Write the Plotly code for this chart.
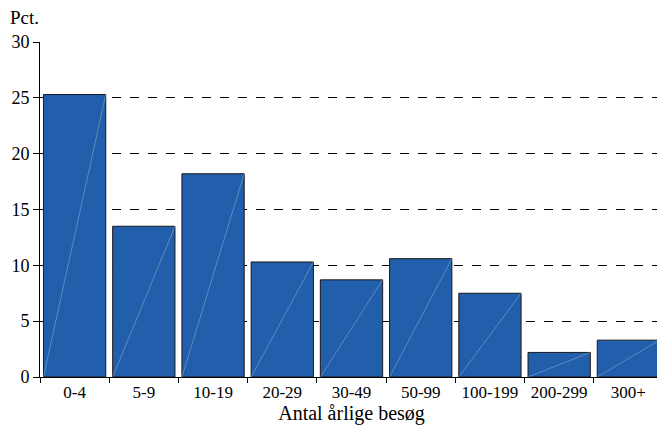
import plotly.graph_objects as go

categories = ["0-4", "5-9", "10-19", "20-29", "30-49", "50-99", "100-199", "200-299", "300+"]
values = [25.3, 13.5, 18.2, 10.3, 8.7, 10.6, 7.5, 2.2, 3.3]
y_ticks = [0, 5, 10, 15, 20, 25, 30]

FONT = "Liberation Serif, Times New Roman, serif"
bar_gap = 0.1
half = (1 - bar_gap) / 2

fig = go.Figure()
fig.add_trace(go.Bar(
    x=categories, y=values,
    marker=dict(color="#215EAB", line=dict(color="#1a1a1a", width=1)),
    hoverinfo="x+y",
))

# faint diagonal line inside each bar (as in the reference)
shapes = []
for i, v in enumerate(values):
    shapes.append(dict(type="line", xref="x", yref="y",
                       x0=i - half, y0=0, x1=i + half, y1=v,
                       line=dict(color="rgba(255,255,255,0.35)", width=0.8)))

# page body adds an 8px offset, so the figure is sized to fit the window
fig.update_layout(
    width=657, height=421,
    margin=dict(l=32, r=2, t=34, b=52),
    paper_bgcolor="white", plot_bgcolor="white",
    bargap=bar_gap,
    showlegend=False,
    font=dict(family=FONT, size=16, color="black"),
    shapes=shapes,
)
fig.update_xaxes(
    type="category",
    automargin=False,
    tickson="boundaries",
    ticks="outside", ticklen=5, tickcolor="black", tickwidth=1,
    showline=True, linecolor="black", linewidth=1,
    showgrid=False,
    tickfont=dict(family=FONT, size=17, color="black"),
    title=dict(text="Antal årlige besøg", font=dict(family=FONT, size=20, color="black"), standoff=2),
)
fig.update_yaxes(
    range=[0, 30],
    automargin=False,
    tickvals=y_ticks,
    ticks="outside", ticklen=6, tickcolor="black", tickwidth=1,
    showline=True, linecolor="black", linewidth=1,
    showgrid=True, gridcolor="black", griddash="dash", gridwidth=0.8,
    zeroline=False,
    tickfont=dict(family=FONT, size=18, color="black"),
)
fig.add_annotation(text="Pct.", xref="paper", yref="paper", x=0, y=1,
                   xshift=-32, yshift=37, xanchor="left", yanchor="top",
                   showarrow=False, font=dict(family=FONT, size=19, color="black"))

fig.write_html("out.html")
